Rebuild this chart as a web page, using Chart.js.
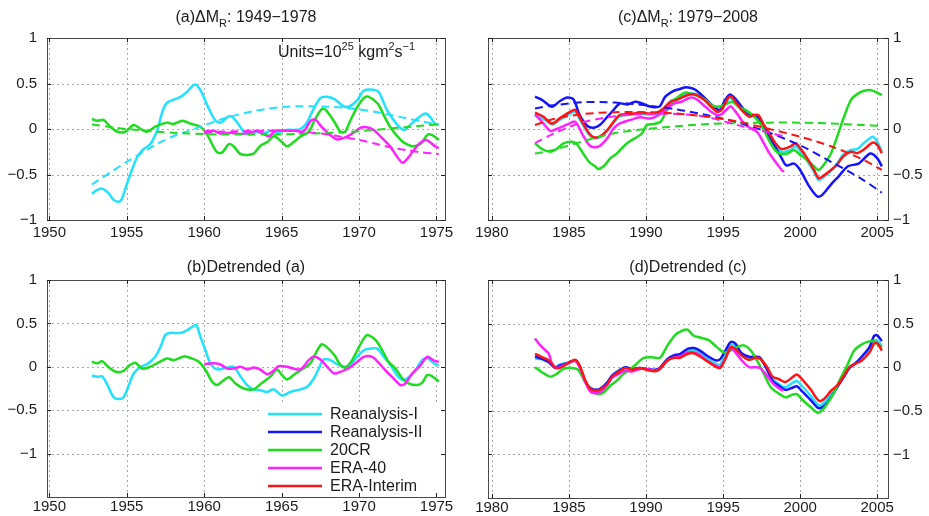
<!DOCTYPE html>
<html>
<head>
<meta charset="utf-8">
<script src="https://cdn.jsdelivr.net/npm/chart.js@4.4.1/dist/chart.umd.min.js"></script>
<style>
    html, body { margin: 0; padding: 0; background: #fff; }
    #wrap { position: relative; width: 929px; height: 516px; overflow: hidden; }
    #wrap canvas { position: absolute; }
</style>
</head>
<body>
<div id="wrap">
    <canvas id="chartA" width="465" height="258" style="left:0;top:0"></canvas>
    <canvas id="chartC" width="464" height="258" style="left:465px;top:0"></canvas>
    <canvas id="chartB" width="465" height="258" style="left:0;top:258px"></canvas>
    <canvas id="chartD" width="464" height="258" style="left:465px;top:258px"></canvas>
</div>
<script>
/* TICKS + LABELS */

const xTicksEarly = [1950, 1955, 1960, 1965, 1970, 1975]
const xTicksLate = [1980, 1985, 1990, 1995, 2000, 2005]
const yTicks = [-1, -0.5, 0, 0.5, 1]
const seriesNames = ['Reanalysis-I', 'Reanalysis-II', '20CR', 'ERA-40', 'ERA-Interim']

/* (a) 1949-1978 */

const aR1Year = [1952.75, 1953.1, 1953.4, 1953.8, 1954.1, 1954.4, 1954.65, 1954.9, 1955.1, 1955.4, 1955.7, 1956.1, 1956.5, 1956.8, 1957.0, 1957.3, 1957.6, 1958.0, 1958.5, 1958.9, 1959.4, 1959.75, 1960.2, 1960.7, 1961.05, 1961.6, 1961.9, 1962.3, 1962.6, 1963.0, 1963.4, 1963.8, 1964.3, 1964.8, 1965.3, 1965.8, 1966.2, 1966.6, 1967.0, 1967.5, 1967.9, 1968.4, 1969.0, 1969.4, 1969.9, 1970.3, 1971.0, 1971.3, 1971.8, 1972.5, 1972.9, 1973.2, 1973.8, 1974.3, 1974.6, 1974.9, 1975.15]
const aR1 = [-0.71, -0.67, -0.655, -0.70, -0.77, -0.80, -0.78, -0.66, -0.56, -0.42, -0.30, -0.22, -0.17, -0.08, 0.0, 0.19, 0.29, 0.32, 0.355, 0.41, 0.49, 0.43, 0.26, 0.10, 0.07, 0.14, 0.12, 0.03, -0.04, -0.06, -0.03, -0.05, -0.02, -0.04, -0.01, -0.01, 0.0, 0.06, 0.2, 0.34, 0.355, 0.33, 0.25, 0.25, 0.32, 0.42, 0.43, 0.40, 0.21, 0.04, -0.01, 0.03, 0.12, 0.17, 0.13, 0.06, 0.05]

const a20Year = [1952.75, 1953.1, 1953.5, 1953.9, 1954.4, 1954.9, 1955.45, 1955.9, 1956.3, 1956.85, 1957.6, 1958.0, 1958.6, 1959.1, 1959.75, 1960.2, 1960.8, 1961.15, 1961.6, 1961.9, 1962.3, 1962.8, 1963.2, 1963.6, 1964.1, 1964.5, 1965.0, 1965.35, 1965.8, 1966.2, 1966.75, 1967.2, 1967.6, 1967.85, 1968.4, 1968.8, 1969.1, 1969.4, 1969.9, 1970.3, 1970.6, 1971.2, 1971.6, 1972.0, 1972.5, 1972.9, 1973.5, 1974.0, 1974.4, 1974.7, 1975.15]
const a20 = [0.11, 0.09, 0.10, 0.03, -0.03, -0.03, 0.045, 0.0, -0.03, 0.025, 0.07, 0.055, 0.09, 0.06, 0.025, -0.065, -0.25, -0.26, -0.165, -0.19, -0.27, -0.285, -0.27, -0.19, -0.14, -0.08, -0.14, -0.19, -0.14, -0.085, -0.03, 0.12, 0.22, 0.21, 0.08, -0.03, -0.03, 0.08, 0.245, 0.34, 0.355, 0.28, 0.15, 0.025, -0.085, -0.15, -0.19, -0.16, -0.065, -0.065, -0.12]

const aE40Year = [1960.0, 1960.6, 1961.05, 1961.7, 1962.3, 1963.0, 1963.4, 1963.85, 1964.2, 1964.6, 1965.35, 1966.0, 1966.4, 1966.9, 1967.2, 1967.6, 1968.1, 1968.6, 1969.2, 1969.65, 1970.1, 1970.5, 1970.95, 1971.4, 1972.0, 1972.4, 1972.8, 1973.1, 1973.5, 1973.9, 1974.3, 1974.55, 1974.9, 1975.15]
const aE40 = [-0.03, -0.02, -0.05, -0.04, -0.055, -0.04, -0.02, -0.055, -0.08, -0.02, -0.02, -0.02, -0.03, 0.095, 0.10, 0.02, -0.06, -0.115, -0.085, -0.04, 0.015, 0.02, -0.01, -0.085, -0.19, -0.29, -0.37, -0.33, -0.24, -0.16, -0.12, -0.14, -0.19, -0.21]

const aTrendYear = [1952.75, 1954, 1955, 1956, 1957, 1958, 1959, 1960, 1961, 1962, 1963, 1964, 1965, 1966, 1967, 1968, 1969, 1970, 1971, 1972, 1973, 1974, 1975.15]
const aR1Trend = [-0.61, -0.47, -0.36, -0.26, -0.16, -0.08, -0.02, 0.04, 0.10, 0.15, 0.19, 0.22, 0.24, 0.25, 0.25, 0.245, 0.235, 0.215, 0.19, 0.155, 0.12, 0.085, 0.045]
const a20Trend = [0.05, 0.02, 0.0, -0.015, -0.03, -0.04, -0.05, -0.055, -0.06, -0.06, -0.06, -0.06, -0.06, -0.055, -0.05, -0.045, -0.035, -0.025, -0.01, 0.005, 0.02, 0.035, 0.05]
const aE40TrendYear = [1960, 1961, 1962, 1963, 1964, 1965, 1966, 1967, 1968, 1969, 1970, 1971, 1972, 1973, 1974, 1975.15]
const aE40Trend = [-0.04, -0.03, -0.025, -0.02, -0.02, -0.02, -0.025, -0.04, -0.06, -0.09, -0.12, -0.16, -0.2, -0.23, -0.255, -0.275]

/* (b) detrended (a) */

const bR1Year = [1952.75, 1953.1, 1953.4, 1953.7, 1954.15, 1954.5, 1954.8, 1955.1, 1955.45, 1955.9, 1956.4, 1956.85, 1957.2, 1957.5, 1957.8, 1958.46, 1958.89, 1959.32, 1959.5, 1959.75, 1960.08, 1960.4, 1960.83, 1961.48, 1961.9, 1962.34, 1962.77, 1963.2, 1963.63, 1964.06, 1964.49, 1965.03, 1965.57, 1966.21, 1966.65, 1967.08, 1967.4, 1967.72, 1968.15, 1968.58, 1969.12, 1969.44, 1969.87, 1970.31, 1970.74, 1971.17, 1971.6, 1972.03, 1972.46, 1972.78, 1973.1, 1973.64, 1974.07, 1974.4, 1974.83, 1975.15]
const bR1 = [-0.10, -0.115, -0.11, -0.19, -0.35, -0.37, -0.35, -0.23, -0.077, 0.0, 0.04, 0.12, 0.24, 0.37, 0.39, 0.39, 0.42, 0.47, 0.48, 0.35, 0.19, 0.04, -0.03, -0.01, 0.0, -0.11, -0.21, -0.26, -0.27, -0.29, -0.26, -0.33, -0.29, -0.26, -0.23, -0.135, -0.02, 0.085, 0.077, 0.03, 0.0, 0.02, 0.115, 0.19, 0.21, 0.21, 0.115, 0.02, -0.1, -0.15, -0.135, -0.04, 0.077, 0.1, 0.04, 0.02]

const b20Year = [1952.75, 1953.1, 1953.4, 1953.8, 1954.3, 1954.8, 1955.2, 1955.55, 1956.0, 1956.4, 1956.95, 1957.6, 1958.03, 1958.7, 1959.2, 1959.65, 1960.1, 1960.5, 1960.83, 1961.15, 1961.6, 1962.0, 1962.55, 1963.2, 1963.7, 1964.3, 1964.7, 1965.03, 1965.35, 1965.9, 1966.4, 1966.86, 1967.3, 1967.6, 1967.9, 1968.4, 1968.8, 1969.12, 1969.55, 1970.0, 1970.4, 1970.6, 1971.06, 1971.5, 1971.9, 1972.35, 1972.8, 1973.2, 1973.75, 1974.07, 1974.4, 1974.7, 1975.15]
const b20 = [0.058, 0.04, 0.065, 0.0, -0.058, -0.046, 0.02, 0.046, -0.02, -0.008, 0.04, 0.096, 0.077, 0.12, 0.096, 0.058, -0.04, -0.17, -0.21, -0.17, -0.12, -0.19, -0.25, -0.26, -0.19, -0.108, -0.03, -0.096, -0.146, -0.077, -0.02, 0.04, 0.19, 0.26, 0.23, 0.135, 0.02, -0.008, 0.077, 0.23, 0.35, 0.365, 0.31, 0.19, 0.058, -0.02, -0.135, -0.19, -0.21, -0.185, -0.096, -0.108, -0.17]

const bE40Year = [1960.0, 1960.6, 1961.05, 1961.5, 1961.9, 1962.35, 1962.8, 1963.2, 1963.6, 1964.06, 1964.4, 1964.8, 1965.35, 1966.0, 1966.3, 1966.75, 1967.08, 1967.5, 1967.94, 1968.4, 1968.8, 1969.3, 1969.9, 1970.3, 1970.84, 1971.27, 1971.7, 1972.24, 1972.67, 1973.0, 1973.4, 1973.97, 1974.4, 1974.83, 1975.15]
const bE40 = [0.03, 0.04, 0.027, -0.02, -0.02, 0.0, -0.03, -0.008, -0.03, -0.085, -0.058, 0.008, 0.0, -0.03, -0.02, 0.077, 0.12, 0.085, 0.0, -0.077, -0.058, -0.02, 0.058, 0.115, 0.115, 0.046, -0.04, -0.135, -0.21, -0.19, -0.085, 0.02, 0.115, 0.07, 0.058]

/* (c) 1979-2008 */

const cR2Year = [1982.8, 1983.25, 1983.9, 1984.4, 1984.9, 1985.3, 1985.7, 1986.2, 1986.6, 1987.0, 1987.5, 1987.9, 1988.3, 1988.8, 1989.3, 1989.75, 1990.2, 1990.6, 1990.9, 1991.25, 1991.8, 1992.2, 1992.6, 1993.1, 1993.5, 1994.0, 1994.4, 1994.8, 1995.1, 1995.45, 1995.7, 1996.0, 1996.6, 1997.2, 1997.7, 1998.3, 1998.8, 1999.1, 1999.6, 2000.0, 2000.55, 2001.1, 2001.4, 2002.05, 2002.5, 2003.1, 2003.8, 2004.55, 2005.0, 2005.3]
const cR2 = [0.355, 0.32, 0.245, 0.305, 0.345, 0.325, 0.153, 0.033, 0.015, 0.044, 0.135, 0.21, 0.28, 0.27, 0.30, 0.28, 0.25, 0.24, 0.25, 0.355, 0.42, 0.44, 0.46, 0.44, 0.39, 0.31, 0.245, 0.21, 0.31, 0.38, 0.35, 0.29, 0.17, 0.14, -0.01, -0.175, -0.32, -0.40, -0.38, -0.45, -0.62, -0.74, -0.73, -0.60, -0.52, -0.41, -0.38, -0.27, -0.32, -0.41]

const cYear = [1982.8, 1983.35, 1983.9, 1984.4, 1985.1, 1985.4, 1985.85, 1986.3, 1986.6, 1987.0, 1987.5, 1987.9, 1988.3, 1989.0, 1989.6, 1990.1, 1990.7, 1991.15, 1991.6, 1992.0, 1992.45, 1992.9, 1993.3, 1993.75, 1994.2, 1994.6, 1994.9, 1995.3, 1995.5, 1995.8, 1996.2, 1996.7, 1997.0, 1997.3, 1997.6, 1998.0, 1998.4, 1998.8, 1999.4, 1999.7, 2000.0, 2000.45, 2000.9, 2001.2, 2001.5, 2002.0, 2002.4, 2002.8, 2003.3, 2003.7, 2004.1, 2004.7, 2005.0, 2005.3]
const cR1 = [0.15, 0.11, 0.05, 0.10, 0.17, 0.19, 0.06, -0.06, -0.10, -0.09, -0.02, 0.07, 0.14, 0.16, 0.17, 0.16, 0.17, 0.23, 0.31, 0.33, 0.37, 0.39, 0.38, 0.34, 0.27, 0.21, 0.22, 0.32, 0.34, 0.29, 0.21, 0.14, 0.15, 0.13, 0.03, -0.08, -0.19, -0.25, -0.23, -0.19, -0.24, -0.35, -0.47, -0.56, -0.53, -0.46, -0.38, -0.28, -0.23, -0.22, -0.16, -0.085, -0.14, -0.25]
const cEI = [0.18, 0.135, 0.06, 0.117, 0.19, 0.21, 0.08, -0.047, -0.09, -0.084, -0.01, 0.08, 0.153, 0.164, 0.18, 0.17, 0.18, 0.226, 0.30, 0.32, 0.355, 0.383, 0.372, 0.325, 0.25, 0.19, 0.21, 0.335, 0.36, 0.30, 0.21, 0.135, 0.153, 0.153, 0.06, -0.047, -0.157, -0.22, -0.19, -0.157, -0.21, -0.32, -0.45, -0.54, -0.515, -0.45, -0.39, -0.30, -0.25, -0.265, -0.23, -0.15, -0.175, -0.265]

const c20Year = [1982.8, 1983.25, 1983.8, 1984.2, 1984.65, 1985.2, 1985.5, 1985.85, 1986.3, 1986.7, 1986.9, 1987.25, 1987.7, 1988.1, 1988.55, 1988.9, 1989.3, 1989.75, 1990.05, 1990.5, 1990.95, 1991.25, 1991.7, 1992.1, 1992.55, 1993.0, 1993.4, 1993.85, 1994.3, 1994.7, 1995.15, 1995.6, 1996.0, 1996.45, 1997.0, 1997.4, 1997.75, 1998.2, 1998.6, 1999.15, 1999.6, 2000.0, 2000.45, 2000.9, 2001.2, 2001.55, 2002.0, 2002.4, 2002.85, 2003.3, 2003.7, 2004.15, 2004.6, 2005.0, 2005.3]
const c20 = [-0.157, -0.22, -0.25, -0.22, -0.157, -0.14, -0.164, -0.25, -0.36, -0.41, -0.44, -0.41, -0.32, -0.27, -0.19, -0.14, -0.10, -0.047, 0.044, 0.055, 0.08, 0.17, 0.30, 0.355, 0.40, 0.38, 0.36, 0.32, 0.26, 0.245, 0.27, 0.30, 0.245, 0.21, 0.14, 0.062, -0.047, -0.19, -0.266, -0.27, -0.23, -0.285, -0.34, -0.41, -0.45, -0.39, -0.27, -0.084, 0.135, 0.32, 0.383, 0.42, 0.427, 0.40, 0.372]

const cE40Year = [1982.8, 1983.25, 1983.8, 1984.2, 1984.9, 1985.4, 1985.85, 1986.3, 1986.6, 1987.0, 1987.5, 1987.9, 1988.3, 1989.0, 1989.6, 1990.3, 1990.8, 1991.25, 1991.8, 1992.3, 1992.9, 1993.3, 1993.85, 1994.4, 1994.8, 1995.3, 1995.5, 1995.9, 1996.35, 1996.8, 1997.2, 1997.65, 1998.0, 1998.4, 1998.8, 1998.95]
const cE40 = [0.16, 0.08, -0.02, 0.0, 0.05, 0.08, -0.05, -0.175, -0.20, -0.186, -0.10, 0.007, 0.062, 0.10, 0.128, 0.117, 0.153, 0.21, 0.28, 0.30, 0.347, 0.325, 0.245, 0.17, 0.153, 0.226, 0.25, 0.17, 0.062, 0.007, -0.03, -0.157, -0.266, -0.36, -0.45, -0.47]

const cTrendYear = [1982.8, 1984, 1986, 1988, 1990, 1992, 1994, 1996, 1998, 2000, 2002, 2004, 2005.3]
const cR2Trend = [0.225, 0.26, 0.295, 0.29, 0.26, 0.215, 0.15, 0.07, -0.04, -0.18, -0.36, -0.55, -0.70]
const c20Trend = [-0.27, -0.23, -0.13, -0.045, 0.0, 0.03, 0.055, 0.065, 0.07, 0.07, 0.06, 0.045, 0.033]
const cEITrend = [0.044, 0.11, 0.165, 0.185, 0.185, 0.17, 0.135, 0.08, 0.0, -0.085, -0.19, -0.33, -0.45]
const cE40TrendYear = [1982.8, 1984, 1985, 1986, 1988, 1990, 1992, 1994, 1996, 1998, 1998.9]
const cE40Trend = [-0.155, -0.05, 0.02, 0.08, 0.14, 0.165, 0.165, 0.13, 0.04, -0.04, -0.08]

/* (d) detrended (c) */

const dYear = [1982.8, 1983.25, 1983.7, 1984.1, 1984.4, 1984.9, 1985.4, 1985.7, 1986.06, 1986.4, 1986.8, 1987.1, 1987.5, 1987.8, 1988.2, 1988.65, 1989.1, 1989.6, 1990.05, 1990.6, 1990.9, 1991.4, 1991.8, 1992.2, 1992.7, 1993.1, 1993.5, 1994.07, 1994.5, 1994.8, 1995.15, 1995.5, 1995.8, 1996.2, 1996.7, 1997.1, 1997.4, 1997.86, 1998.2, 1998.6, 1999.05, 1999.5, 1999.8, 2000.2, 2000.7, 2001.1, 2001.3, 2001.65, 2002.0, 2002.4, 2002.85, 2003.2, 2003.6, 2004.0, 2004.5, 2004.8, 2005.0, 2005.3]
const dR1 = [0.10, 0.09, 0.06, 0.0, 0.03, 0.05, 0.08, 0.01, -0.16, -0.25, -0.27, -0.25, -0.18, -0.10, -0.04, 0.0, -0.02, -0.01, -0.02, -0.04, -0.01, 0.09, 0.12, 0.13, 0.18, 0.19, 0.16, 0.09, 0.04, 0.03, 0.14, 0.25, 0.24, 0.15, 0.10, 0.11, 0.10, -0.02, -0.13, -0.19, -0.23, -0.18, -0.16, -0.23, -0.33, -0.42, -0.44, -0.39, -0.31, -0.22, -0.10, 0.0, 0.05, 0.11, 0.21, 0.30, 0.31, 0.24]
const dR2 = [0.123, 0.096, 0.058, -0.008, 0.02, 0.046, 0.077, 0.0, -0.17, -0.24, -0.26, -0.24, -0.17, -0.096, -0.046, 0.0, -0.02, -0.008, -0.02, -0.03, -0.008, 0.096, 0.135, 0.15, 0.21, 0.22, 0.19, 0.12, 0.08, 0.09, 0.19, 0.29, 0.27, 0.16, 0.12, 0.12, 0.11, -0.03, -0.154, -0.21, -0.26, -0.235, -0.22, -0.29, -0.38, -0.46, -0.47, -0.43, -0.346, -0.23, -0.108, -0.008, 0.046, 0.123, 0.23, 0.36, 0.365, 0.30]
const dEI = [0.154, 0.115, 0.077, 0.0, -0.008, 0.04, 0.085, 0.02, -0.15, -0.25, -0.27, -0.25, -0.19, -0.108, -0.058, -0.008, -0.03, -0.008, -0.03, -0.046, -0.02, 0.077, 0.108, 0.108, 0.154, 0.16, 0.123, 0.058, 0.008, -0.008, 0.096, 0.23, 0.21, 0.135, 0.085, 0.108, 0.096, 0.0, -0.108, -0.135, -0.17, -0.115, -0.085, -0.154, -0.26, -0.365, -0.39, -0.346, -0.27, -0.21, -0.096, 0.0, 0.04, 0.077, 0.17, 0.27, 0.277, 0.19]

const d20Year = [1982.8, 1983.25, 1983.8, 1984.2, 1984.65, 1985.2, 1985.6, 1986.06, 1986.5, 1986.9, 1987.25, 1987.7, 1988.1, 1988.55, 1989.0, 1989.4, 1989.85, 1990.4, 1990.9, 1991.4, 1991.9, 1992.35, 1992.7, 1993.1, 1993.5, 1994.07, 1994.6, 1995.05, 1995.5, 1995.9, 1996.35, 1996.8, 1997.2, 1997.65, 1998.1, 1998.6, 1999.05, 1999.5, 1999.8, 2000.2, 2000.7, 2001.1, 2001.4, 2001.75, 2002.2, 2002.6, 2003.05, 2003.5, 2003.9, 2004.35, 2004.8, 2005.0, 2005.3]
const d20 = [0.0, -0.058, -0.108, -0.077, -0.02, -0.008, -0.03, -0.17, -0.27, -0.31, -0.29, -0.21, -0.154, -0.077, -0.02, 0.04, 0.108, 0.115, 0.108, 0.25, 0.37, 0.42, 0.43, 0.36, 0.34, 0.31, 0.23, 0.17, 0.19, 0.23, 0.25, 0.19, 0.077, -0.077, -0.23, -0.30, -0.346, -0.315, -0.31, -0.385, -0.46, -0.52, -0.50, -0.42, -0.29, -0.135, 0.02, 0.19, 0.25, 0.29, 0.30, 0.27, 0.23]

const dE40Year = [1982.8, 1983.15, 1983.5, 1983.7, 1983.9, 1984.2, 1984.65, 1985.4, 1985.7, 1986.06, 1986.4, 1986.8, 1987.1, 1987.5, 1987.8, 1988.2, 1988.65, 1989.1, 1989.6, 1990.05, 1990.6, 1990.9, 1991.4, 1991.8, 1992.2, 1992.7, 1993.1, 1993.5, 1994.07, 1994.5, 1994.8, 1995.15, 1995.5, 1995.8, 1996.2, 1996.7, 1997.1, 1997.4, 1997.86, 1998.2, 1998.6, 1998.9]
const dE40 = [0.33, 0.25, 0.19, 0.154, 0.04, -0.008, 0.02, 0.07, 0.0, -0.17, -0.28, -0.30, -0.28, -0.20, -0.12, -0.08, -0.04, -0.05, -0.02, -0.02, -0.04, -0.02, 0.08, 0.11, 0.12, 0.17, 0.17, 0.14, 0.06, 0.02, 0.0, 0.10, 0.22, 0.17, 0.08, 0.0, 0.0, -0.01, -0.10, -0.18, -0.24, -0.27]

/* STYLE */

const FONT = "'Liberation Sans', Arial, Helvetica, sans-serif"
const INK = '#1c1c1c'
const COLORS = ['#20e2ff', '#1414ff', '#1edc1e', '#ff22ff', '#ff1414']

function pts(xs, ys) {
    return xs.map((x, i) => ({ x, y: ys[i] }))
}

function fmtY(v) {
    if (v === 0) return '0'
    return v < 0 ? '\u2212' + Math.abs(v) : String(v)
}

// text pieces with sub/superscripts
function drawRich(ctx, parts, x, y, size, align) {
    const small = Math.round(size * 0.7)
    let w = 0
    parts.forEach(([t, s]) => {
        ctx.font = (s ? small : size) + 'px ' + FONT
        w += ctx.measureText(t).width
    })
    let cx = align === 'center' ? x - w / 2 : x
    ctx.textAlign = 'left'
    ctx.textBaseline = 'alphabetic'
    parts.forEach(([t, s]) => {
        ctx.font = (s ? small : size) + 'px ' + FONT
        const dy = s === 'sub' ? size * 0.3 : s === 'sup' ? -size * 0.42 : 0
        ctx.fillText(t, cx, y + dy)
        cx += ctx.measureText(t).width
    })
}

/* MATLAB-like box, dotted grid, inward ticks, title, legend */

function matlabAxes(p) {
    return {
        id: 'matlabAxes',
        beforeDatasetsDraw(chart) {
            const { ctx, chartArea: a, scales: { x, y } } = chart
            ctx.save()
            ctx.strokeStyle = '#a8a8a8'
            ctx.lineWidth = 1
            ctx.setLineDash([2, 3])
            x.ticks.forEach(t => {
                const px = Math.round(x.getPixelForValue(t.value)) + 0.5
                ctx.beginPath(); ctx.moveTo(px, a.top); ctx.lineTo(px, a.bottom); ctx.stroke()
            })
            y.ticks.forEach(t => {
                if (t.value === y.min || t.value === y.max) return
                const py = Math.round(y.getPixelForValue(t.value)) + 0.5
                ctx.beginPath(); ctx.moveTo(a.left, py); ctx.lineTo(a.right, py); ctx.stroke()
            })
            ctx.restore()
        },
        afterDatasetsDraw(chart) {
            const { ctx, chartArea: a, scales: { x, y } } = chart
            ctx.save()
            if (p.legend) {
                ctx.fillStyle = '#fff'
                ctx.fillRect(a.left + 215, a.top + 123, a.right - a.left - 216, a.bottom - a.top - 124)
                seriesNames.forEach((name, i) => {
                    const ly = a.top + 134 + i * 18
                    ctx.strokeStyle = COLORS[i]
                    ctx.lineWidth = 2.5
                    ctx.beginPath(); ctx.moveTo(a.left + 221, ly); ctx.lineTo(a.left + 275, ly); ctx.stroke()
                    ctx.fillStyle = INK
                    ctx.font = '16px ' + FONT
                    ctx.textAlign = 'left'
                    ctx.textBaseline = 'middle'
                    ctx.fillText(name, a.left + 283, ly + 1)
                })
            }
            ctx.strokeStyle = '#4a4a4a'
            ctx.lineWidth = 1
            ctx.strokeRect(Math.round(a.left) + 0.5, Math.round(a.top) + 0.5,
                Math.round(a.right - a.left), Math.round(a.bottom - a.top))
            ctx.strokeStyle = '#222'
            x.ticks.forEach(t => {
                const px = Math.round(x.getPixelForValue(t.value)) + 0.5
                ctx.beginPath()
                ctx.moveTo(px, a.bottom); ctx.lineTo(px, a.bottom - 4)
                ctx.moveTo(px, a.top); ctx.lineTo(px, a.top + 4)
                ctx.stroke()
            })
            y.ticks.forEach(t => {
                const py = Math.round(y.getPixelForValue(t.value)) + 0.5
                ctx.beginPath()
                ctx.moveTo(a.left, py); ctx.lineTo(a.left + 4, py)
                ctx.moveTo(a.right, py); ctx.lineTo(a.right - 4, py)
                ctx.stroke()
            })
            ctx.fillStyle = INK
            drawRich(ctx, p.title, (a.left + a.right) / 2, p.titleY, 16, 'center')
            if (p.units) drawRich(ctx, p.units, a.left + 231, a.top + 19, 16, 'left')
            ctx.restore()
        }
    }
}

function makeChart(id, p) {
    const total = p.lines.length
    const datasets = p.lines.map((l, i) => ({
        data: pts(l.xs, l.ys),
        borderColor: COLORS[l.c],
        borderWidth: l.dash ? 2 : 2.5,
        borderDash: l.dash ? [8, 5] : [],
        pointRadius: 0,
        tension: 0.3,
        fill: false,
        order: total - i
    }))
    const tickFont = { family: FONT, size: 15 }
    new Chart(document.getElementById(id), {
        type: 'line',
        data: { datasets },
        options: {
            responsive: false,
            animation: false,
            devicePixelRatio: 1,
            events: [],
            layout: { padding: p.pad },
            plugins: { legend: { display: false }, tooltip: { enabled: false } },
            scales: {
                x: {
                    type: 'linear',
                    min: p.xMin,
                    max: p.xMax,
                    grid: { display: false, drawTicks: false },
                    border: { display: false },
                    ticks: { color: INK, font: tickFont, padding: p.xPad, maxRotation: 0, autoSkip: false, callback: v => String(v) },
                    afterBuildTicks: s => { s.ticks = p.xTicks.map(v => ({ value: v })) },
                    afterFit: s => { s.height = p.xH }
                },
                y: {
                    type: 'linear',
                    position: p.yPos,
                    min: p.yMin,
                    max: 1,
                    grid: { display: false, drawTicks: false },
                    border: { display: false },
                    ticks: { color: INK, font: tickFont, padding: p.yPos === 'left' ? 10 : 5, autoSkip: false, callback: fmtY },
                    afterBuildTicks: s => { s.ticks = yTicks.map(v => ({ value: v })) },
                    afterFit: s => { s.width = p.yW }
                }
            }
        },
        plugins: [matlabAxes(p)]
    })
}

makeChart('chartA', {
    xMin: 1949.85, xMax: 1975.55, xTicks: xTicksEarly, yMin: -1, yPos: 'left',
    pad: { left: 0, top: 38, right: 20, bottom: 0 }, yW: 47, xH: 38, xPad: 4,
    title: [['(a)\u0394M', ''], ['R', 'sub'], [': 1949\u22121978', '']], titleY: 22,
    units: [['Units=10', ''], ['25', 'sup'], [' kgm', ''], ['2', 'sup'], ['s', ''], ['\u22121', 'sup']],
    lines: [
        { xs: aR1Year, ys: aR1, c: 0 },
        { xs: a20Year, ys: a20, c: 2 },
        { xs: aE40Year, ys: aE40, c: 3 },
        { xs: aTrendYear, ys: aR1Trend, c: 0, dash: true },
        { xs: aTrendYear, ys: a20Trend, c: 2, dash: true },
        { xs: aE40TrendYear, ys: aE40Trend, c: 3, dash: true }
    ]
})

makeChart('chartC', {
    xMin: 1979.75, xMax: 2005.7, xTicks: xTicksLate, yMin: -1, yPos: 'right',
    pad: { left: 23, top: 38, right: 0, bottom: 0 }, yW: 41, xH: 38, xPad: 4,
    title: [['(c)\u0394M', ''], ['R', 'sub'], [': 1979\u22122008', '']], titleY: 22,
    lines: [
        { xs: cYear, ys: cR1, c: 0 },
        { xs: cR2Year, ys: cR2, c: 1 },
        { xs: c20Year, ys: c20, c: 2 },
        { xs: cE40Year, ys: cE40, c: 3 },
        { xs: cYear, ys: cEI, c: 4 },
        { xs: cTrendYear, ys: cR2Trend, c: 1, dash: true },
        { xs: cTrendYear, ys: c20Trend, c: 2, dash: true },
        { xs: cE40TrendYear, ys: cE40Trend, c: 3, dash: true },
        { xs: cTrendYear, ys: cEITrend, c: 4, dash: true }
    ]
})

makeChart('chartB', {
    xMin: 1949.85, xMax: 1975.55, xTicks: xTicksEarly, yMin: -1.5, yPos: 'left',
    pad: { left: 0, top: 22, right: 20, bottom: 0 }, yW: 47, xH: 18, xPad: 1,
    title: [['(b)Detrended (a)', '']], titleY: 14, legend: true,
    lines: [
        { xs: bR1Year, ys: bR1, c: 0 },
        { xs: b20Year, ys: b20, c: 2 },
        { xs: bE40Year, ys: bE40, c: 3 }
    ]
})

makeChart('chartD', {
    xMin: 1979.75, xMax: 2005.7, xTicks: xTicksLate, yMin: -1.5, yPos: 'right',
    pad: { left: 23, top: 22, right: 0, bottom: 0 }, yW: 41, xH: 18, xPad: 1,
    title: [['(d)Detrended (c)', '']], titleY: 14,
    lines: [
        { xs: dYear, ys: dR1, c: 0 },
        { xs: dYear, ys: dR2, c: 1 },
        { xs: d20Year, ys: d20, c: 2 },
        { xs: dE40Year, ys: dE40, c: 3 },
        { xs: dYear, ys: dEI, c: 4 }
    ]
})
</script>
</body>
</html>
